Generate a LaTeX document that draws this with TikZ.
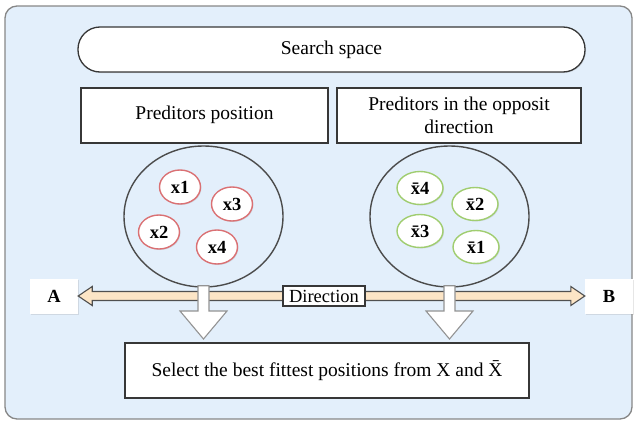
\documentclass[tikz,border=0pt]{standalone}
\usepackage{fontspec}
\setmainfont{Liberation Serif}
\usetikzlibrary{shapes.geometric,shadows,calc}
\definecolor{panel}{RGB}{227,239,251}
\definecolor{panelline}{RGB}{135,135,135}
\definecolor{boxline}{RGB}{55,55,55}
\definecolor{redc}{RGB}{218,112,115}
\definecolor{greenc}{RGB}{160,205,112}
\definecolor{arrowfill}{RGB}{252,229,198}
\definecolor{arrowline}{RGB}{80,80,80}
\tikzset{
  txt/.style={font=\fontsize{19.5}{23}\selectfont},
  mainbox/.style={txt, draw=boxline, line width=2pt, fill=white, inner sep=2pt, align=center,
     drop shadow={opacity=0.25, shadow xshift=1pt, shadow yshift=-1pt}},
  bigcirc/.style={ellipse, draw=boxline!90, line width=1.4pt, fill=panel, minimum width=159pt, minimum height=141pt, inner sep=0pt},
  redcirc/.style={ellipse, draw=redc, line width=1.4pt, fill=white, minimum width=41pt, minimum height=34pt, inner sep=0pt,
     font=\bfseries\fontsize{18.5}{20}\selectfont, drop shadow={opacity=0.2, shadow xshift=1pt, shadow yshift=-1pt}},
  greencirc/.style={redcirc, draw=greenc, minimum width=46pt, minimum height=33pt},
  endbox/.style={fill=white, minimum width=48pt, minimum height=35pt, font=\bfseries\fontsize{18.5}{22}\selectfont,
     drop shadow={opacity=0.2, shadow xshift=1pt, shadow yshift=-1pt}},
  dirarrow/.style={draw=arrowline, line width=1.1pt, fill=arrowfill, line join=miter},
  downarrow/.style={draw=gray!85, line width=1.1pt, fill=white, line join=miter},
}
\begin{document}
\begin{tikzpicture}[x=1pt,y=-1pt]
\useasboundingbox (0,0) rectangle (636,423);
% outer panel
\draw[panelline, line width=1.3pt, fill=panel, rounded corners=12pt] (5,6) rectangle (632,419);

\node[txt, draw=boxline, line width=1.3pt, fill=white, rounded corners=22pt, minimum width=507pt, minimum height=45pt,
  drop shadow={opacity=0.2, shadow xshift=1pt, shadow yshift=-1pt}] (ss) at (331.5,49.5) {Search space};

\node[mainbox, minimum width=247pt, minimum height=55pt] (pp) at (204.5,115) {Preditors position};
\node[mainbox, minimum width=244pt, minimum height=55pt] (po) at (459,115) {Preditors in the opposit\\direction};

\node[bigcirc] (lc) at (203.5,216.5) {};
\node[bigcirc] (rc) at (449.5,216.5) {};

\node[redcirc] (x1) at (180,187) {x1};
\node[redcirc] (x3) at (232,204) {x3};
\node[redcirc] (x2) at (159,232) {x2};
\node[redcirc] (x4) at (217,247) {x4};

\node[greencirc] (y4) at (420,188) {\={x}4};
\node[greencirc] (y2) at (475,204) {\={x}2};
\node[greencirc] (y3) at (420,231) {\={x}3};
\node[greencirc] (y1) at (476,247) {\={x}1};

\node[endbox] (A) at (54,296) {A};
\node[endbox] (B) at (609,296) {B};

\node[mainbox, minimum width=404pt, minimum height=55pt] (sel) at (327,370.5) {Select the best fittest positions from X and \={X}};

% double arrow A <-> B
\draw[dirarrow] let \p1=(A.east), \p2=(B.west) in
  (\x1,\y1) -- (\x1+14pt,\y1+9.5pt) -- (\x1+14pt,\y1+4.5pt) -- (\x2-14pt,\y1+4.5pt) -- (\x2-14pt,\y1+9.5pt)
  -- (\x2,\y1) -- (\x2-14pt,\y1-9.5pt) -- (\x2-14pt,\y1-4.5pt) -- (\x1+14pt,\y1-4.5pt) -- (\x1+14pt,\y1-9.5pt) -- cycle;

% down arrows
\foreach \c in {lc,rc}{
\draw[downarrow] let \p1=(\c.south), \p2=(sel.north) in
  (\x1-5.5pt,\y1+2pt) -- (\x1+5.5pt,\y1+2pt) -- (\x1+5.5pt,\y2+31pt) -- (\x1+23.5pt,\y2+31pt)
  -- (\x1,\y2+3pt) -- (\x1-23.5pt,\y2+31pt) -- (\x1-5.5pt,\y2+31pt) -- cycle;
}

\node[font=\fontsize{18.5}{22}\selectfont, draw=boxline, line width=1.8pt, fill=white, minimum width=82pt, minimum height=20pt, inner sep=1pt] (dir) at (324,296) {Direction};
\end{tikzpicture}
\end{document}
